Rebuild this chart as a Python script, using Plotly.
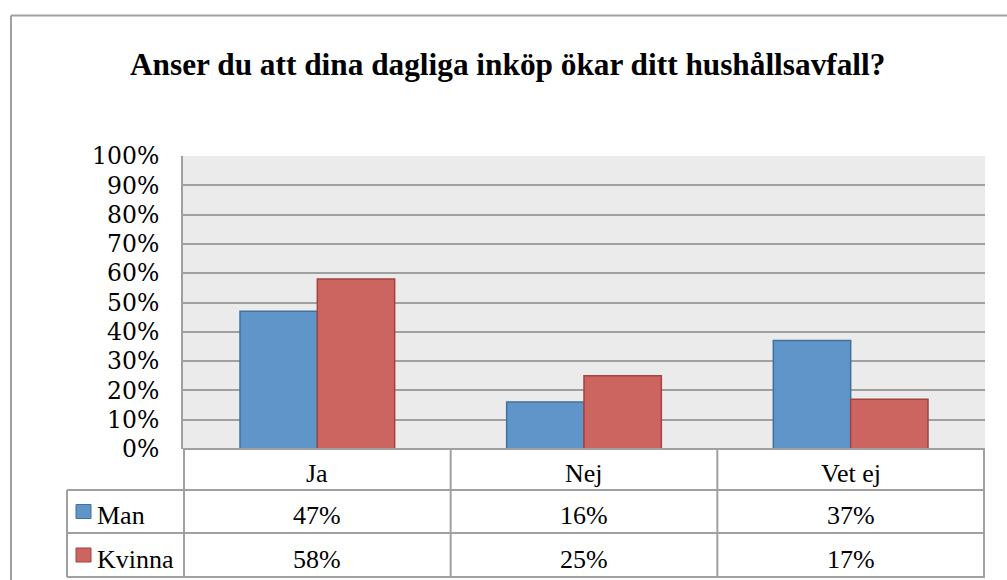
import plotly.graph_objects as go

W, H = 1007, 580

title = "Anser du att dina dagliga inköp ökar ditt hushållsavfall?"
categories = ["Ja", "Nej", "Vet ej"]
series_names = ["Man", "Kvinna"]
man_values = [47, 16, 37]
kvinna_values = [58, 25, 17]
y_ticks = [0, 10, 20, 30, 40, 50, 60, 70, 80, 90, 100]

colors = {"Man": "#6095C9", "Kvinna": "#CC645F"}
edge_colors = {"Man": "#41719C", "Kvinna": "#A4433F"}
grid_col = "#A0A0A0"
FONT = "Liberation Serif, Times New Roman, DejaVu Serif, serif"
TICK_FONT = "DejaVu Serif, Liberation Serif, serif"


def px(x):
    return x / W


def py(y):
    return 1 - y / H


plot_left, plot_right, plot_top, plot_bottom = 183, 985, 156, 449
row_edges = [449, 490, 533, 577]
table_left = 67

fig = go.Figure()
for name, vals in [("Man", man_values), ("Kvinna", kvinna_values)]:
    fig.add_trace(go.Bar(
        x=categories,
        y=[v / 100 for v in vals],
        name=name,
        marker=dict(color=colors[name], line=dict(color=edge_colors[name], width=1.5)),
        hoverinfo="skip",
    ))

shapes = []
# outer chart border
shapes.append(dict(type="line", xref="paper", yref="paper", x0=px(11), x1=1.02, y0=py(15.5), y1=py(15.5),
                   line=dict(color=grid_col, width=2)))
shapes.append(dict(type="line", xref="paper", yref="paper", x0=px(11), x1=px(11), y0=py(15.5), y1=-0.02,
                   line=dict(color=grid_col, width=2)))
# table horizontal lines
for i, yy in enumerate(row_edges):
    x0 = plot_left if i == 0 else table_left
    shapes.append(dict(type="line", xref="paper", yref="paper", x0=px(x0), x1=px(plot_right),
                       y0=py(yy), y1=py(yy), line=dict(color=grid_col, width=2)))
# table vertical lines at category boundaries
for k in range(len(categories) + 1):
    shapes.append(dict(type="line", xref="x", yref="paper", x0=k - 0.5, x1=k - 0.5,
                       y0=py(row_edges[0]), y1=py(row_edges[-1]), line=dict(color=grid_col, width=2)))
# left edge of table for series rows
shapes.append(dict(type="line", xref="paper", yref="paper", x0=px(table_left), x1=px(table_left),
                   y0=py(row_edges[1]), y1=py(row_edges[-1]), line=dict(color=grid_col, width=2)))

annotations = []
annotations.append(dict(text="<b>" + title + "</b>", xref="paper", yref="paper", x=px(507), y=py(65),
                        xanchor="center", yanchor="middle", showarrow=False,
                        font=dict(family=FONT, size=31.3, color="black")))
for c in categories:
    annotations.append(dict(text=c, xref="x", yref="paper", x=c, y=py((row_edges[0] + row_edges[1]) / 2 + 4),
                            xanchor="center", yanchor="middle", showarrow=False,
                            font=dict(family=FONT, size=26, color="black")))
for r, (name, vals) in enumerate([("Man", man_values), ("Kvinna", kvinna_values)]):
    yc = (row_edges[r + 1] + row_edges[r + 2]) / 2
    for c, v in zip(categories, vals):
        annotations.append(dict(text=f"{v}%", xref="x", yref="paper", x=c, y=py(yc + 4),
                                xanchor="center", yanchor="middle", showarrow=False,
                                font=dict(family=FONT, size=26, color="black")))
    annotations.append(dict(text=name, xref="paper", yref="paper", x=px(95), y=py(yc + 4),
                            xanchor="left", yanchor="middle", showarrow=False,
                            font=dict(family=FONT, size=26, color="black")))
    shapes.append(dict(type="rect", xref="paper", yref="paper", x0=px(76), x1=px(91),
                       y0=py(yc + 7), y1=py(yc - 7), fillcolor=colors[name],
                       line=dict(color=edge_colors[name], width=1)))

fig.update_layout(
    width=W, height=H,
    margin=dict(l=0, r=0, t=0, b=0, pad=0, autoexpand=False),
    paper_bgcolor="white",
    plot_bgcolor="#EBEBEB",
    showlegend=False,
    barmode="group",
    bargap=0.42,
    bargroupgap=0,
    shapes=shapes,
    annotations=annotations,
    font=dict(family=FONT, color="black"),
    xaxis=dict(domain=[px(plot_left), px(plot_right)], showticklabels=False, showgrid=False,
               showline=False, zeroline=False, ticks="", fixedrange=True, automargin=False),
    yaxis=dict(domain=[py(plot_bottom), py(plot_top)], range=[0, 1],
               tickvals=[t / 100 for t in y_ticks], ticktext=[f"{t}%" for t in y_ticks],
               showgrid=True, gridcolor=grid_col, gridwidth=2,
               showline=True, linecolor=grid_col, linewidth=2, zeroline=False,
               ticks="", ticklabelstandoff=17, fixedrange=True, automargin=False,
               tickfont=dict(family=TICK_FONT, size=23.5, color="black")),
)

post = (
    "document.body.style.margin='0';"
    "document.body.style.overflow='hidden';"
    "document.documentElement.style.overflow='hidden';"
)

fig.write_html("out.html", config={"displayModeBar": False}, post_script=post)
